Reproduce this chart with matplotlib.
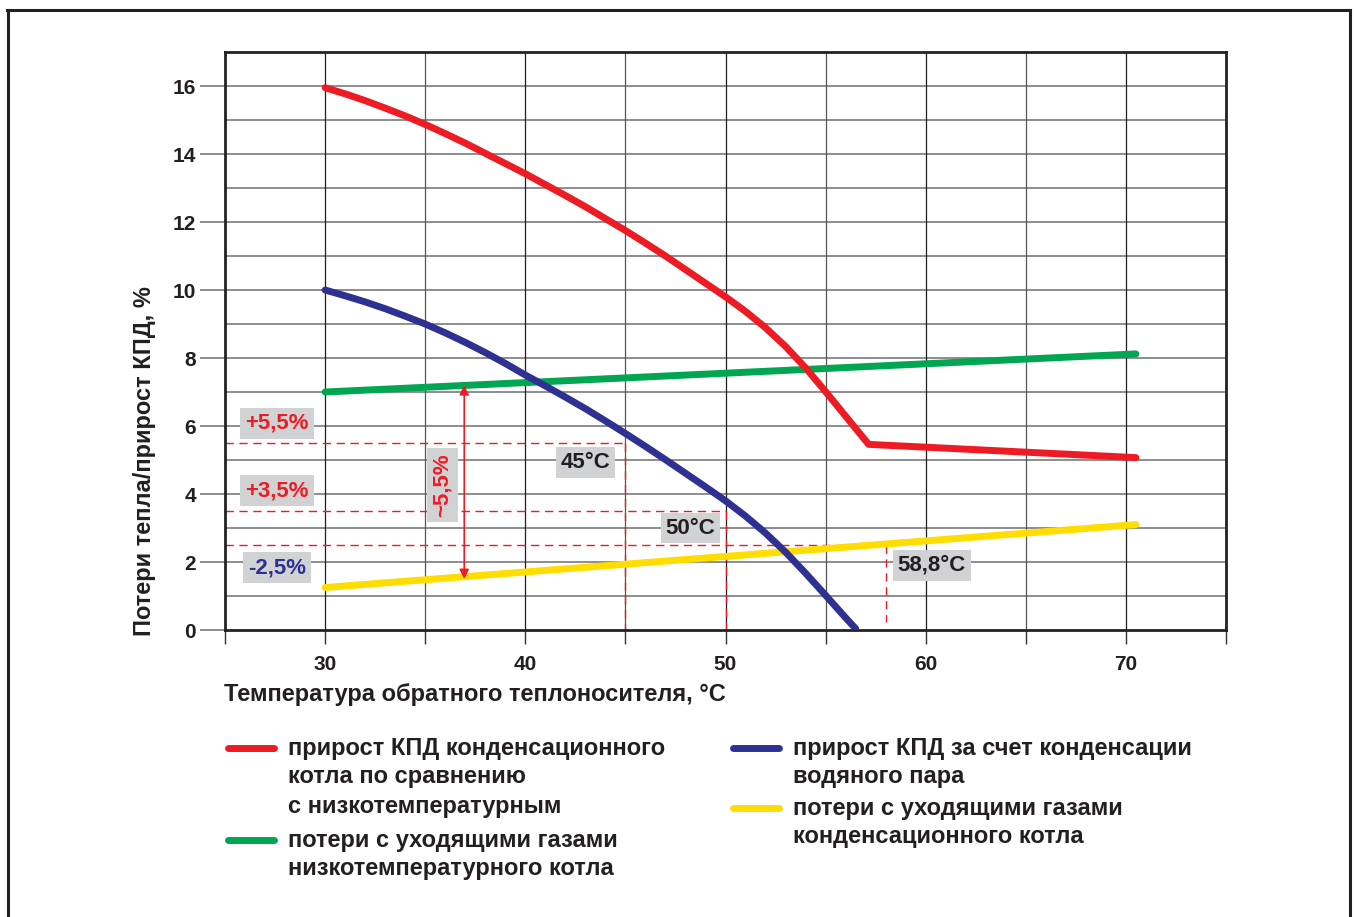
import matplotlib.pyplot as plt
from matplotlib.lines import Line2D

plt.rcParams['font.family'] = ['Liberation Sans', 'DejaVu Sans']
plt.rcParams['font.weight'] = 'bold'

# --- данные ---
red_x = [30, 31, 32, 33, 34, 35, 36, 37, 38, 39, 40, 41, 42, 43, 44, 45,
         46, 47, 48, 49, 50, 51, 52, 53, 54, 55, 57.15, 70.5]
red_y = [15.95, 15.77, 15.57, 15.35, 15.12, 14.87, 14.6, 14.32, 14.02, 13.72,
         13.42, 13.1, 12.78, 12.45, 12.1, 11.75, 11.38, 11.0, 10.6, 10.2,
         9.8, 9.37, 8.89, 8.34, 7.71, 7.01, 5.46, 5.07]

blue_x = [30, 31, 32, 33, 34, 35, 36, 37, 38, 39, 40, 41, 42, 43, 44, 45,
          46, 47, 48, 49, 50, 51, 52, 53, 54, 55, 56, 56.5]
blue_y = [10.0, 9.83, 9.65, 9.45, 9.23, 9.0, 8.74, 8.46, 8.16, 7.84, 7.5,
          7.18, 6.85, 6.51, 6.15, 5.78, 5.4, 5.01, 4.61, 4.21, 3.8, 3.35,
          2.85, 2.29, 1.67, 1.02, 0.36, 0.04]

green_x = [30, 70.5]
green_y = [7.0, 8.12]

yellow_x = [30, 70.5]
yellow_y = [1.25, 3.1]

# уровни и температуры пунктирных линий
levels = [5.5, 3.5, 2.5]
temps = [45, 50, 58]
temp_labels = ["45°C", "50°C", "58,8°C"]
level_labels = ["+5,5%", "+3,5%", "-2,5%"]

x_ticks = [30, 40, 50, 60, 70]
y_ticks = [0, 2, 4, 6, 8, 10, 12, 14, 16]

RED = "#ed1c24"
BLUE = "#2e3192"
GREEN = "#00a651"
YELLOW = "#ffdd00"
BOX = "#d1d2d4"
INK = "#231f20"

W, H = 1356, 917
fig = plt.figure(figsize=(W / 100, H / 100), dpi=100)

def fx(px):
    return px / W

def fy(py):
    return 1 - py / H

ax = fig.add_axes([fx(225), fy(630), fx(1226) - fx(225), fy(52) - fy(630)])
ax.set_xlim(25, 75)
ax.set_ylim(0, 17)

# сетка
for yv in range(1, 17):
    ax.axhline(yv, color="#7a7a7a", lw=1.2, zorder=1)
for xv in range(30, 75, 5):
    c = "#1f1f1f" if xv % 10 == 0 else "#555555"
    ax.axvline(xv, color=c, lw=0.9, zorder=1)

for s in ax.spines.values():
    s.set_linewidth(2.0)
    s.set_color("#222222")

ax.set_xticks(range(25, 80, 5))
ax.set_xticklabels([str(t) if t in x_ticks else "" for t in range(25, 80, 5)])
ax.set_yticks(y_ticks)
ax.tick_params(axis="x", direction="out", length=10, width=1, color="#333333",
               pad=8, labelsize=15)
ax.tick_params(axis="y", direction="out", length=18, width=1.2, color="#7a7a7a",
               pad=3, labelsize=15)
for lab in ax.get_xticklabels() + ax.get_yticklabels():
    lab.set_fontweight("bold")
    lab.set_color(INK)

# пунктирные линии
dash = dict(color=RED, lw=1.0, dashes=(6, 4), zorder=2)
ax.plot([25, temps[0]], [levels[0]] * 2, **dash)
ax.plot([temps[0]] * 2, [levels[0], 0], **dash)
ax.plot([25, temps[1]], [levels[1]] * 2, **dash)
ax.plot([temps[1]] * 2, [levels[1], 0], **dash)
ax.plot([25, temps[2]], [levels[2]] * 2, **dash)
ax.plot([temps[2]] * 2, [levels[2], 0.25], **dash)

# кривые
kw = dict(lw=5, solid_capstyle="round", solid_joinstyle="round", zorder=4)
ax.plot(green_x, green_y, color=GREEN, **kw)
ax.plot(yellow_x, yellow_y, color=YELLOW, **kw)
ax.plot(blue_x, blue_y, color=BLUE, **kw)
ax.plot(red_x, red_y, color=RED, **kw)

# стрелка ~5,5%
ax.annotate("", xy=(36.95, 1.5), xytext=(36.95, 7.2),
            arrowprops=dict(arrowstyle="<|-|>", color=RED, lw=1.2,
                            mutation_scale=14, shrinkA=0, shrinkB=0), zorder=5)
box = dict(boxstyle="square,pad=0.22", fc=BOX, ec="none")
ax.text(35.85, 4.27, "~5,5%", rotation=90, ha="center", va="center",
        fontsize=16, color=RED, fontweight="bold", zorder=6, bbox=box)

# подписи уровней
ax.text(27.6, 6.08, level_labels[0], ha="center", va="center", fontsize=16,
        color=RED, fontweight="bold", bbox=box, zorder=6)
ax.text(27.6, 4.1, level_labels[1], ha="center", va="center", fontsize=16,
        color=RED, fontweight="bold", bbox=box, zorder=6)
ax.text(27.6, 1.83, level_labels[2], ha="center", va="center", fontsize=16,
        color=BLUE, fontweight="bold", bbox=box, zorder=6)

# подписи температур
ax.text(43.0, 4.93, temp_labels[0], ha="center", va="center", fontsize=16,
        color=INK, fontweight="bold", bbox=box, zorder=6)
ax.text(48.25, 3.0, temp_labels[1], ha="center", va="center", fontsize=16,
        color=INK, fontweight="bold", bbox=box, zorder=6)
ax.text(60.3, 1.9, temp_labels[2], ha="center", va="center", fontsize=16,
        color=INK, fontweight="bold", bbox=box, zorder=6)

# подписи осей
fig.text(fx(145), fy(636), "Потери тепла/прирост КПД, %", rotation=90,
         rotation_mode="anchor", ha="left", va="center", fontsize=17,
         fontweight="bold", color=INK)
fig.text(fx(224), fy(694), "Температура обратного теплоносителя, °C",
         ha="left", va="center", fontsize=17, fontweight="bold", color=INK)

# легенда (ручная раскладка)
legend_items = [
    (RED, 228, 748, ["прирост КПД конденсационного", "котла по сравнению",
                     "с низкотемпературным"]),
    (GREEN, 228, 840, ["потери с уходящими газами", "низкотемпературного котла"]),
    (BLUE, 733, 748, ["прирост КПД за счет конденсации", "водяного пара"]),
    (YELLOW, 733, 808, ["потери с уходящими газами", "конденсационного котла"]),
]
for col, x0, y0, lines in legend_items:
    fig.add_artist(Line2D([fx(x0), fx(x0 + 46)], [fy(y0), fy(y0)], color=col,
                          lw=5, solid_capstyle="round"))
    for i, t in enumerate(lines):
        fig.text(fx(x0 + 60), fy(y0 + 29 * i), t, ha="left", va="center",
                 fontsize=17, fontweight="bold", color=INK)

# внешняя рамка
frame = dict(color=INK, lw=2.2)
fig.add_artist(Line2D([fx(8), fx(8)], [fy(917), fy(10)], **frame))
fig.add_artist(Line2D([fx(7), fx(1350)], [fy(10), fy(10)], **frame))
fig.add_artist(Line2D([fx(1350), fx(1350)], [fy(10), fy(917)], **frame))

fig.savefig("out.png", dpi=100)
